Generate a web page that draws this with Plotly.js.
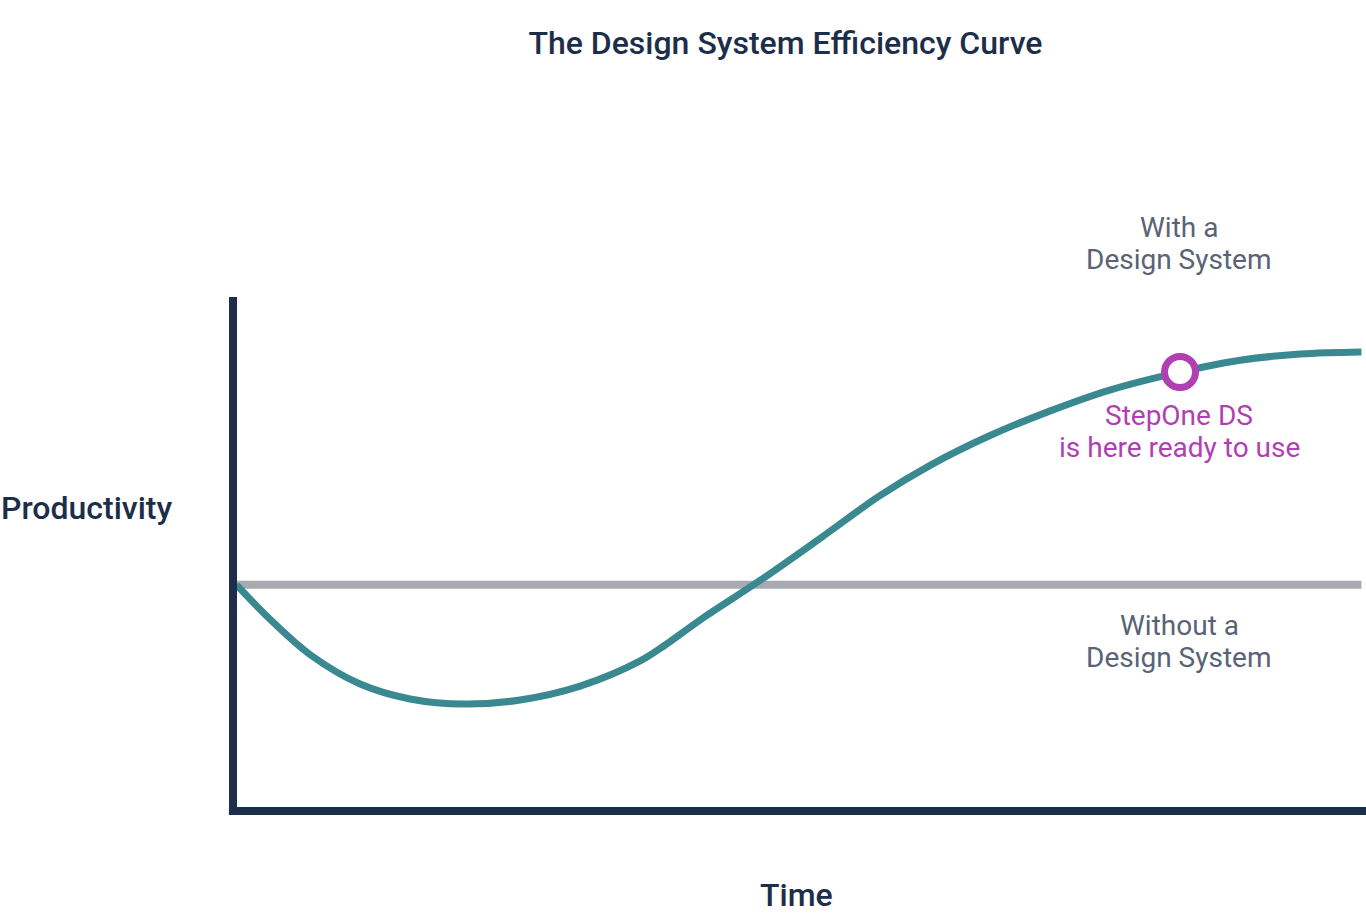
<!DOCTYPE html>
<html>
<head>
<meta charset="utf-8">
<script src="https://cdn.plot.ly/plotly-3.0.1.min.js"></script>
<style>html,body{margin:0;padding:0;background:#fff;}#chart{width:1366px;height:916px;}</style>
</head>
<body>
<div id="chart"></div>
<script>
// Time (0-100) vs Productivity (0-100)
const timeWith = [0.4, 3.4, 6.9, 11.3, 15.7, 20.5, 25.4, 30.7, 36.0, 38.2, 41.3, 46.6, 51.9, 57.1, 61.6, 66.8, 72.1, 77.4, 83.6, 88.9, 94.2, 99.6];
const prodWith = [44.0, 37.2, 30.4, 24.7, 21.8, 20.8, 21.6, 24.3, 29.2, 32.3, 37.2, 44.9, 53.1, 61.3, 67.3, 73.0, 77.8, 81.9, 85.4, 87.7, 88.9, 89.3];
const timeWithout = [0.4, 99.6];
const prodWithout = [44.0, 44.0];
const markerTime = [83.6];
const markerProd = [85.4];

const navy = '#1c2e4a';
const grey = '#596375';
const magenta = '#b03fb3';
const teal = '#3a8990';
const lineGrey = '#a9a9b2';
const font = 'Roboto, sans-serif';

const traces = [
  {x: timeWithout, y: prodWithout, mode: 'lines', line: {color: lineGrey, width: 8}, hoverinfo: 'skip', showlegend: false},
  {x: timeWith, y: prodWith, mode: 'lines', line: {color: teal, width: 7, shape: 'spline', smoothing: 1}, hoverinfo: 'skip', showlegend: false},
  {x: markerTime, y: markerProd, mode: 'markers', marker: {size: 31, color: '#ffffff', line: {color: magenta, width: 7}}, hoverinfo: 'skip', showlegend: false}
];

const cx = (1179 - 232) / 1134;
const py = p => (811 - p) / 514;
function label(text, y, color, size, weight, x) {
  return {text: text, xref: 'paper', yref: 'paper', x: x === undefined ? cx : x, y: py(y), xanchor: 'center', yanchor: 'middle',
          showarrow: false, font: {family: font, size: size, color: color, weight: weight}};
}

const layout = {
  width: 1366, height: 916,
  margin: {l: 232, r: 0, t: 297, b: 105},
  paper_bgcolor: '#ffffff', plot_bgcolor: '#ffffff',
  title: {text: 'The Design System Efficiency Curve', x: 0.575, xanchor: 'center', y: 0.953, yanchor: 'middle', yref: 'container',
          font: {family: font, size: 32, color: navy, weight: 500}},
  xaxis: {range: [0, 100], showgrid: false, zeroline: false, showticklabels: false, showline: false, ticks: ''},
  yaxis: {range: [0, 100], showgrid: false, zeroline: false, showticklabels: false, showline: false, ticks: ''},
  shapes: [
    {type: 'line', xref: 'paper', yref: 'paper', x0: 0.0009, x1: 0.0009, y0: -0.0078, y1: 1, line: {color: navy, width: 8}},
    {type: 'line', xref: 'paper', yref: 'paper', x0: -0.0027, x1: 1, y0: 0, y1: 0, line: {color: navy, width: 8}}
  ],
  annotations: [
    label('With a', 227, grey, 28, 400),
    label('Design System', 259, grey, 28, 400),
    label('StepOne DS', 415, magenta, 28, 400),
    label('is here ready to use', 447, magenta, 28, 400),
    label('Without a', 625, grey, 28, 400),
    label('Design System', 657, grey, 28, 400),
    label('Productivity', 508, navy, 32, 500, (87 - 232) / 1134),
    label('Time', 895, navy, 32, 500, (796 - 232) / 1134)
  ]
};

Plotly.newPlot('chart', traces, layout, {displayModeBar: false, staticPlot: true});
</script>
</body>
</html>
